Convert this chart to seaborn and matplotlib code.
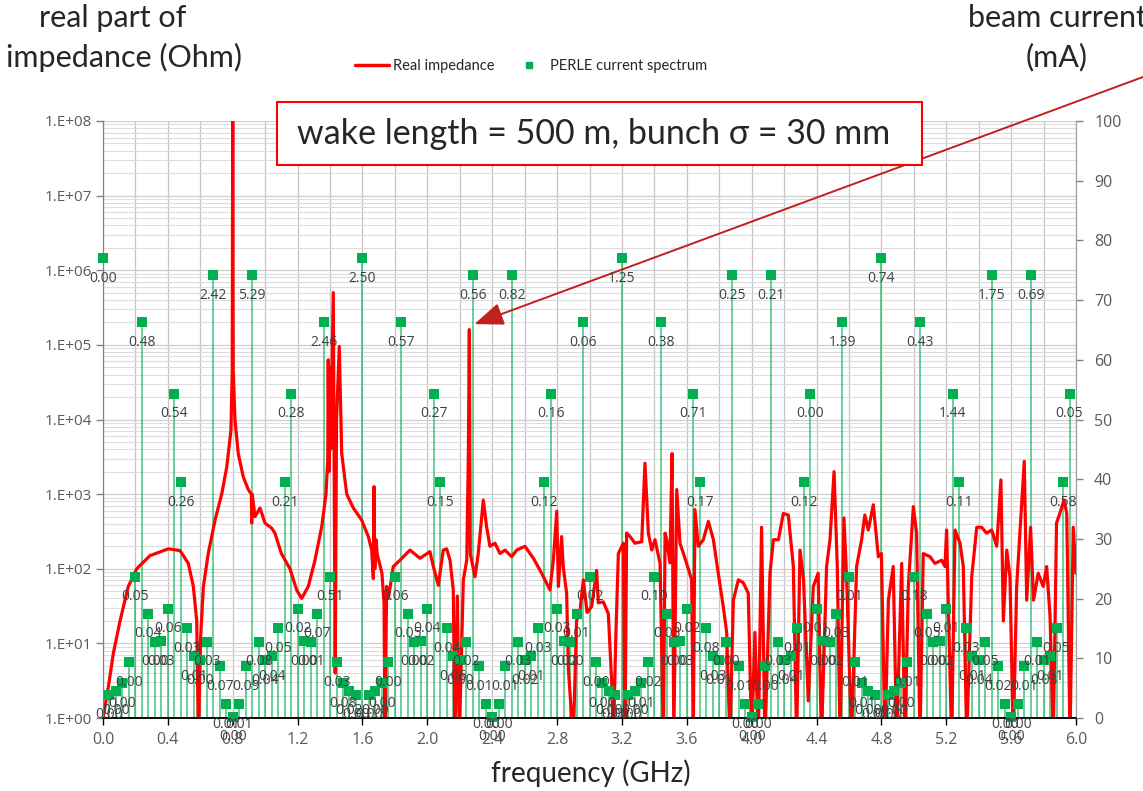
import numpy as np
import pandas as pd
import seaborn as sns
import matplotlib
matplotlib.use("Agg")
import matplotlib.pyplot as plt
from matplotlib.ticker import LogLocator, MultipleLocator, FuncFormatter, NullFormatter
from matplotlib.patches import Rectangle
from matplotlib.lines import Line2D

# Real part of the wake impedance: frequency (GHz) and impedance (Ohm)
impedance_ghz = [
    0.000, 0.033, 0.064, 0.105, 0.156, 0.208, 0.290, 0.403, 0.475, 0.526,
    0.557, 0.578, 0.588, 0.602, 0.619, 0.649, 0.691, 0.732, 0.763, 0.789,
    0.797, 0.800, 0.803, 0.814, 0.834, 0.865, 0.896, 0.915, 0.917, 0.920,
    0.937, 0.968, 0.999, 1.040, 1.060, 1.100, 1.153, 1.194, 1.225, 1.266,
    1.307, 1.349, 1.375, 1.386, 1.389, 1.393, 1.398, 1.404, 1.420, 1.426,
    1.432, 1.440, 1.457, 1.472, 1.503, 1.544, 1.595, 1.636, 1.657, 1.667,
    1.671, 1.676, 1.684, 1.690, 1.720, 1.733, 1.739, 1.749, 1.760, 1.790,
    1.831, 1.893, 1.955, 2.016, 2.037, 2.068, 2.098, 2.119, 2.140, 2.160,
    2.170, 2.185, 2.197, 2.222, 2.243, 2.253, 2.259, 2.265, 2.294, 2.314,
    2.345, 2.366, 2.386, 2.417, 2.448, 2.479, 2.520, 2.551, 2.602, 2.654,
    2.705, 2.756, 2.777, 2.798, 2.808, 2.828, 2.838, 2.859, 2.870, 2.900,
    2.920, 2.940, 2.962, 2.985, 3.013, 3.044, 3.054, 3.085, 3.116, 3.137,
    3.147, 3.163, 3.178, 3.209, 3.219, 3.229, 3.250, 3.280, 3.322, 3.342,
    3.363, 3.384, 3.404, 3.435, 3.456, 3.466, 3.476, 3.496, 3.509, 3.520,
    3.538, 3.558, 3.599, 3.630, 3.640, 3.650, 3.671, 3.702, 3.733, 3.764,
    3.794, 3.825, 3.846, 3.866, 3.887, 3.918, 3.948, 3.979, 4.000, 4.020,
    4.041, 4.061, 4.082, 4.113, 4.134, 4.165, 4.195, 4.226, 4.257, 4.277,
    4.298, 4.320, 4.349, 4.380, 4.410, 4.430, 4.462, 4.483, 4.508, 4.528,
    4.545, 4.569, 4.586, 4.616, 4.647, 4.678, 4.698, 4.719, 4.750, 4.781,
    4.800, 4.822, 4.843, 4.873, 4.894, 4.925, 4.945, 4.966, 4.997, 5.017,
    5.038, 5.058, 5.100, 5.130, 5.172, 5.192, 5.202, 5.213, 5.233, 5.254,
    5.285, 5.305, 5.326, 5.357, 5.388, 5.418, 5.449, 5.480, 5.511, 5.537,
    5.552, 5.573, 5.593, 5.613, 5.634, 5.655, 5.681, 5.696, 5.720, 5.738,
    5.767, 5.798, 5.819, 5.840, 5.860, 5.880, 5.900, 5.926, 5.943, 5.963,
    5.983, 6.000,
]
impedance_ohm = [
    1.0, 2.6, 7.4, 20, 58, 100, 150, 185, 175, 118,
    58, 20, 0.5, 12, 58, 160, 450, 1000, 2300, 7200,
    4.6e4, 1.5e8, 4.6e4, 9800, 3500, 1700, 1150, 1000, 410, 1000,
    500, 650, 410, 350, 300, 160, 100, 52, 40, 58,
    130, 370, 1000, 2900, 6.3e4, 2000, 5.0e4, 4000, 5.0e5, 1000,
    4.0, 9800, 9.5e4, 3500, 1000, 650, 450, 270, 178, 74,
    1260, 100, 245, 160, 87, 35, 0.5, 58, 40, 107,
    130, 178, 138, 170, 107, 60, 178, 185, 130, 52,
    0.5, 43, 0.5, 71, 130, 3500, 1.6e5, 158, 78, 160,
    830, 360, 200, 220, 160, 178, 145, 178, 200, 138,
    87, 52, 130, 590, 58, 270, 107, 47, 4.4, 0.5,
    20, 26, 71, 26, 31, 95, 35, 36, 25, 3.0,
    0.5, 14, 160, 220, 0.5, 300, 270, 220, 230, 2600,
    300, 178, 245, 118, 0.5, 300, 245, 120, 3500, 0.5,
    1150, 220, 118, 71, 0.5, 620, 200, 245, 430, 245,
    87, 31, 14, 0.5, 38, 71, 65, 47, 0.5, 14,
    0.5, 360, 0.5, 87, 245, 245, 550, 525, 107, 0.5,
    178, 71, 1.7, 58, 87, 0.5, 107, 245, 2000, 107,
    0.5, 480, 71, 0.5, 107, 245, 525, 330, 720, 145,
    160, 0.5, 38, 107, 0.5, 118, 0.5, 58, 680, 300,
    0.5, 160, 145, 118, 130, 107, 330, 31, 0.5, 330,
    220, 107, 0.5, 78, 360, 360, 300, 330, 200, 1550,
    20, 178, 78, 0.5, 58, 330, 2750, 38, 360, 38,
    87, 58, 107, 23, 0.5, 410, 550, 830, 550, 0.5,
    360, 87,
]

# PERLE beam current spectrum: one line every 40 MHz (mA)
spectrum_ghz = np.round(np.arange(150) * 0.04, 2)
spectrum_ma = [
    77, 3.9, 4.6, 5.8, 9.3, 23.7, 66.3, 17.5, 12.8, 12.9,
    18.3, 54.3, 39.5, 15.0, 10.4, 9.7, 12.8, 74.2, 8.7, 2.3,
    0.2, 2.3, 8.7, 74.2, 12.8, 9.7, 10.4, 15.0, 39.5, 54.3,
    18.3, 12.9, 12.8, 17.5, 66.3, 23.7, 9.3, 5.8, 4.6, 3.9,
    77, 3.9, 4.6, 5.8, 9.3, 23.7, 66.3, 17.5, 12.8, 12.9,
    18.3, 54.3, 39.5, 15.0, 10.4, 9.7, 12.8, 74.2, 8.7, 2.3,
    0.2, 2.3, 8.7, 74.2, 12.8, 9.7, 10.4, 15.0, 39.5, 54.3,
    18.3, 12.9, 12.8, 17.5, 66.3, 23.7, 9.3, 5.8, 4.6, 3.9,
    77, 3.9, 4.6, 5.8, 9.3, 23.7, 66.3, 17.5, 12.8, 12.9,
    18.3, 54.3, 39.5, 15.0, 10.4, 9.7, 12.8, 74.2, 8.7, 2.3,
    0.2, 2.3, 8.7, 74.2, 12.8, 9.7, 10.4, 15.0, 39.5, 54.3,
    18.3, 12.9, 12.8, 17.5, 66.3, 23.7, 9.3, 5.8, 4.6, 3.9,
    77, 3.9, 4.6, 5.8, 9.3, 23.7, 66.3, 17.5, 12.8, 12.9,
    18.3, 54.3, 39.5, 15.0, 10.4, 9.7, 12.8, 74.2, 8.7, 2.3,
    0.2, 2.3, 8.7, 74.2, 12.8, 9.7, 10.4, 15.0, 39.5, 54.3,
]
spectrum_labels = [
    "0.00", "0.00", "0.00", "0.00", "0.00", "0.05", "0.48", "0.04", "0.00", "0.03",
    "0.06", "0.54", "0.26", "0.03", "0.01", "0.00", "0.03", "2.42", "0.07", "0.01",
    "0.00", "0.01", "0.09", "5.29", "0.08", "0.04", "0.04", "0.05", "0.21", "0.28",
    "0.02", "0.00", "0.01", "0.07", "2.46", "0.51", "0.03", "0.08", "0.02", "0.00",
    "2.50", "0.00", "0.00", "0.00", "0.00", "0.06", "0.57", "0.05", "0.00", "0.02",
    "0.04", "0.27", "0.15", "0.04", "0.06", "0.00", "0.02", "0.56", "0.01", "0.00",
    "0.00", "0.00", "0.01", "0.82", "0.03", "0.02", "0.01", "0.03", "0.12", "0.16",
    "0.03", "0.02", "0.00", "0.01", "0.06", "0.02", "0.00", "0.00", "0.00", "0.00",
    "1.25", "0.00", "0.00", "0.01", "0.02", "0.10", "0.38", "0.03", "0.00", "0.03",
    "0.02", "0.71", "0.17", "0.08", "0.03", "0.01", "0.00", "0.25", "0.01", "0.00",
    "0.00", "0.00", "0.00", "0.21", "0.03", "0.04", "0.01", "0.01", "0.12", "0.00",
    "0.01", "0.00", "0.02", "0.03", "1.39", "0.01", "0.01", "0.01", "0.00", "0.00",
    "0.74", "0.00", "0.00", "0.00", "0.01", "0.18", "0.43", "0.05", "0.00", "0.02",
    "0.01", "1.44", "0.11", "0.03", "0.01", "0.04", "0.05", "1.75", "0.02", "0.00",
    "0.00", "0.00", "0.01", "0.69", "0.01", "0.03", "0.01", "0.05", "0.58", "0.05",
]

freq_ticks = [round(0.4 * i, 1) for i in range(16)]

RED = "#FF0000"
GREEN = "#00B050"
GREY_TXT = "#595959"

sns.set_style("white")
plt.rcParams["font.family"] = ["Open Sans", "DejaVu Sans"]

W, H = 1143, 791
fig = plt.figure(figsize=(W / 100, H / 100), dpi=100)
ax = fig.add_axes([103 / W, 1 - 718 / H, (1076 - 103) / W, (718 - 121) / H])
ax2 = ax.twinx()

# ---- impedance (left, log axis) ----
imp = pd.DataFrame({"f": impedance_ghz, "z": impedance_ohm})
sns.lineplot(data=imp, x="f", y="z", ax=ax, color=RED, lw=2.3, sort=False,
             estimator=None, legend=False, zorder=3)
ax.set_yscale("log")

# ---- current spectrum (right, linear axis) ----
ax2.set_ylim(0, 100)
ax.vlines(spectrum_ghz, 0, spectrum_ma, transform=ax2.transData,
          colors=GREEN, lw=1.1, alpha=0.75, zorder=2)
spec = pd.DataFrame({"f": spectrum_ghz, "i": spectrum_ma})
sns.scatterplot(data=spec, x="f", y="i", ax=ax2, marker="s", s=44,
                color=GREEN, edgecolor=GREEN, linewidth=0, legend=False,
                zorder=4, clip_on=False)
for f, i, lab in zip(spectrum_ghz, spectrum_ma, spectrum_labels):
    ax2.annotate(lab, (f, i), xytext=(0, -14.5), textcoords="offset points",
                 ha="center", va="center", fontsize=10, color="#404040",
                 annotation_clip=False, zorder=5)

# ---- axes formatting ----
ax.set_xlim(0, 6)
ax.set_ylim(1, 1e8)
ax2.set_xlim(0, 6)
ax.set_xlabel("")
ax.set_ylabel("")
ax2.set_xlabel("")
ax2.set_ylabel("")

ax.set_xticks(freq_ticks)
ax.set_xticklabels([f"{t:.1f}" for t in freq_ticks])
ax.xaxis.set_minor_locator(MultipleLocator(0.2))
ax.yaxis.set_major_locator(LogLocator(base=10, numticks=20))
ax.yaxis.set_minor_locator(LogLocator(base=10, subs=np.arange(2, 10), numticks=100))
ax.yaxis.set_major_formatter(FuncFormatter(lambda v, p: f"1.E+{int(round(np.log10(v))):02d}"))
ax.yaxis.set_minor_formatter(NullFormatter())

ax.set_axisbelow(True)
ax.grid(True, which="major", axis="y", color="#CFCFCF", lw=0.9)
ax.grid(True, which="minor", axis="y", color="#DDDDDD", lw=0.8)
ax.grid(True, which="both", axis="x", color="#C4C4C4", lw=0.9)

ax.tick_params(axis="x", which="major", direction="out", length=5, width=1,
               color="#000000", labelsize=11.5, labelcolor=GREY_TXT, pad=5,
               bottom=True)
ax.tick_params(axis="y", which="major", direction="out", length=5, width=1,
               color="#808080", labelsize=11, labelcolor=GREY_TXT, pad=3, left=True)
ax.tick_params(which="minor", length=0)

ax2.set_yticks(range(0, 101, 10))
ax2.tick_params(axis="y", direction="out", length=5, width=1, color="#808080",
                labelsize=11.5, labelcolor=GREY_TXT, pad=8, right=True)
ax2.grid(False)

for a in (ax, ax2):
    a.spines["top"].set_visible(False)
    a.spines["left"].set_color("#808080")
    a.spines["right"].set_color("#A0A0A0")
    a.spines["bottom"].set_color("#000000")
    a.spines["bottom"].set_linewidth(1.1)

# ---- titles ----
title_font = ["Lato", "DejaVu Sans"]
fig.text(113 / W, 1 - 18 / H, "real part of", ha="center", va="center",
         fontsize=22, family=title_font)
fig.text(124 / W, 1 - 57 / H, "impedance (Ohm)", ha="center", va="center",
         fontsize=22, family=title_font)
fig.text(1057 / W, 1 - 18 / H, "beam current", ha="center", va="center",
         fontsize=22, family=title_font)
fig.text(1057 / W, 1 - 57 / H, "(mA)", ha="center", va="center",
         fontsize=22, family=title_font)
fig.text(591 / W, 1 - 773 / H, "frequency (GHz)", ha="center", va="center",
         fontsize=20, family=title_font)

# ---- legend ----
handles = [Line2D([], [], color=RED, lw=2.5),
           Line2D([], [], color=GREEN, marker="s", ls="none", ms=5)]
fig.legend(handles, ["Real impedance", "PERLE current spectrum"], loc="center",
           bbox_to_anchor=(531 / W, 1 - 66 / H), ncol=2, frameon=False,
           prop={"family": title_font, "size": 10.5}, handlelength=2.3,
           handletextpad=0.3, columnspacing=1.2)

# ---- annotation box and arrow ----
fig.add_artist(Rectangle((277 / W, 1 - 165 / H), 645 / W, 63 / H,
                         transform=fig.transFigure, facecolor="white",
                         edgecolor=RED, lw=1.5, zorder=10))
fig.text(594 / W, 1 - 134 / H, "wake length = 500 m, bunch \u03c3 = 30 mm",
         ha="center", va="center", fontsize=24.5, family=title_font, zorder=11)

ax.annotate("", xy=(2.29, 1.9e5), xycoords="data",
            xytext=(1.0, 1 - 77 / H), textcoords="figure fraction",
            arrowprops=dict(arrowstyle="-|>,head_length=0.9,head_width=0.35",
                            color="#C0201E", lw=1.4, mutation_scale=20,
                            shrinkA=0, shrinkB=0),
            annotation_clip=False, zorder=12)

fig.savefig("out.png", dpi=100)
